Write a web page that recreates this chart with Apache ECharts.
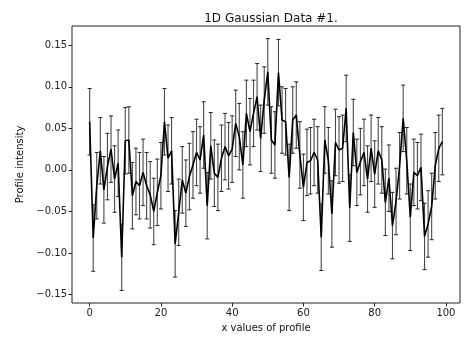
<!DOCTYPE html>
<html>
<head>
<meta charset="utf-8">
<script src="https://cdn.jsdelivr.net/npm/echarts@6/dist/echarts.min.js"></script>
<style>
  html, body { margin: 0; padding: 0; background: #fff; }
  #chart { width: 464px; height: 338px; }
</style>
</head>
<body>
<div id="chart"></div>
<script>
// Sample positions along the profile
const xValues = [];
for (let i = 0; i < 100; i++) xValues.push(i);

// Measured profile intensity at each position
const intensity = [
  0.058, -0.082, -0.019, 0.023, -0.024, 0.004, 0.025, -0.011, 0.008, -0.105,
  0.035, 0.036, -0.031, -0.014, -0.019, -0.003, -0.019, -0.030, -0.050, -0.027,
  -0.007, 0.058, 0.014, 0.023, -0.089, -0.051, -0.012, -0.028, -0.008, 0.006,
  0.021, 0.012, 0.042, -0.043, 0.029, -0.004, -0.009, 0.014, 0.028, 0.017,
  0.025, 0.056, 0.040, 0.006, 0.068, 0.046, 0.068, 0.088, 0.038, 0.084,
  0.118, 0.036, 0.030, 0.117, 0.060, 0.058, -0.009, 0.060, 0.066, 0.018,
  -0.021, 0.009, 0.011, 0.021, 0.012, -0.081, 0.036, 0.011, -0.053, 0.033,
  0.024, 0.026, 0.074, -0.046, 0.045, -0.003, 0.010, 0.021, -0.011, 0.026,
  -0.005, 0.023, 0.012, -0.039, -0.010, -0.067, -0.038, 0.005, 0.062, 0.011,
  -0.057, -0.003, -0.007, 0.003, -0.080, -0.065, -0.044, 0.005, 0.026, 0.034
];

// Uncertainty (half-length of each error bar)
const yErr = 0.04;

// Tick labels
const xTicks = [0, 20, 40, 60, 80, 100];
const yTicks = [-0.15, -0.10, -0.05, 0.00, 0.05, 0.10, 0.15];

const linePoints = xValues.map((x, i) => [x, intensity[i]]);
const barPoints = xValues.map((x, i) => [x, intensity[i] - yErr, intensity[i] + yErr]);

// Axis limits with a 5% margin around the data extent
const xMinData = Math.min(...xValues), xMaxData = Math.max(...xValues);
const xPad = 0.05 * (xMaxData - xMinData);
const lows = barPoints.map(p => p[1]), highs = barPoints.map(p => p[2]);
const yMinData = Math.min(...lows), yMaxData = Math.max(...highs);
const yPad = 0.05 * (yMaxData - yMinData);

const font = 'DejaVu Sans';
const fmtY = v => (v < 0 ? '\u2212' : '') + Math.abs(v).toFixed(2);

const chart = echarts.init(document.getElementById('chart'), null, { renderer: 'canvas' });
chart.setOption({
  animation: false,
  backgroundColor: '#fff',
  title: {
    text: '1D Gaussian Data #1.',
    left: 266,
    top: 8,
    textAlign: 'center',
    textStyle: { fontFamily: font, fontSize: 12, fontWeight: 'normal', color: '#111' }
  },
  grid: {
    left: 72, right: 4, top: 26, bottom: 35,
    show: true, borderColor: '#222', borderWidth: 1, backgroundColor: 'transparent'
  },
  xAxis: {
    type: 'value',
    min: xMinData - xPad,
    max: xMaxData + xPad,
    name: 'x values of profile',
    nameLocation: 'middle',
    nameGap: 20,
    nameTextStyle: { fontFamily: font, fontSize: 10, color: '#111' },
    axisLine: { show: false, onZero: false },
    splitLine: { show: false },
    axisTick: { show: true, inside: false, length: 3.5, customValues: xTicks, lineStyle: { color: '#222', width: 1 } },
    axisLabel: { customValues: xTicks, fontFamily: font, fontSize: 10, color: '#222', margin: 5 }
  },
  yAxis: {
    type: 'value',
    min: yMinData - yPad,
    max: yMaxData + yPad,
    name: 'Profile intensity',
    nameLocation: 'middle',
    nameRotate: 90,
    nameGap: 43,
    nameTextStyle: { fontFamily: font, fontSize: 10, color: '#111' },
    axisLine: { show: false, onZero: false },
    splitLine: { show: false },
    axisTick: { show: true, inside: false, length: 3.5, customValues: yTicks, lineStyle: { color: '#222', width: 1 } },
    axisLabel: { customValues: yTicks, formatter: fmtY, fontFamily: font, fontSize: 10, color: '#222', margin: 5 }
  },
  series: [
    {
      type: 'custom',
      name: 'errors',
      z: 2,
      data: barPoints,
      renderItem: function (params, api) {
        const x = api.value(0);
        const lo = api.coord([x, api.value(1)]);
        const hi = api.coord([x, api.value(2)]);
        const cap = 2;
        const style = { stroke: '#4a4a4a', lineWidth: 1.1 };
        return {
          type: 'group',
          children: [
            { type: 'line', shape: { x1: lo[0], y1: lo[1], x2: hi[0], y2: hi[1] }, style: style },
            { type: 'line', shape: { x1: lo[0] - cap, y1: lo[1], x2: lo[0] + cap, y2: lo[1] }, style: { stroke: '#222', lineWidth: 1 } },
            { type: 'line', shape: { x1: hi[0] - cap, y1: hi[1], x2: hi[0] + cap, y2: hi[1] }, style: { stroke: '#222', lineWidth: 1 } }
          ]
        };
      }
    },
    {
      type: 'line',
      name: 'profile',
      z: 3,
      data: linePoints,
      showSymbol: false,
      lineStyle: { color: '#000', width: 1.6 }
    }
  ]
});
</script>
</body>
</html>
